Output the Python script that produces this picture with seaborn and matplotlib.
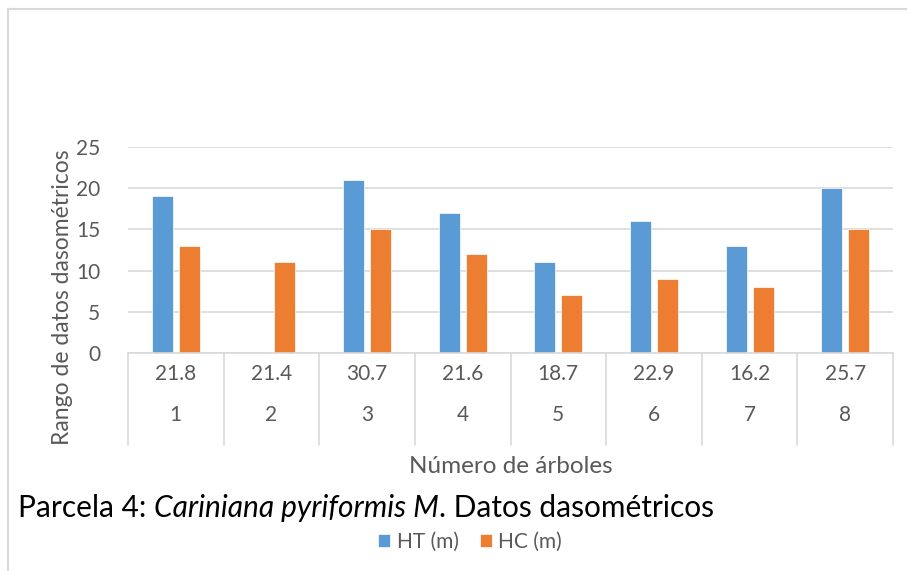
import matplotlib
matplotlib.use("Agg")
import matplotlib.pyplot as plt
import matplotlib.transforms as mtransforms
import seaborn as sns
import pandas as pd

# ---- data ----
arboles = ["1", "2", "3", "4", "5", "6", "7", "8"]
dap = ["21.8", "21.4", "30.7", "21.6", "18.7", "22.9", "16.2", "25.7"]
ht = [19, 0, 21, 17, 11, 16, 13, 20]
hc = [13, 11, 15, 12, 7, 9, 8, 15]
series_names = ["HT (m)", "HC (m)"]
colors = ["#5B9BD5", "#ED7D31"]

df = pd.DataFrame({
    "arbol": arboles * 2,
    "valor": ht + hc,
    "serie": [series_names[0]] * len(arboles) + [series_names[1]] * len(arboles),
})

sns.set_theme(style="white")
plt.rcParams["font.family"] = ["Lato", "DejaVu Sans"]
grey = "#595959"

fig = plt.figure(figsize=(9.07, 5.71), dpi=100)
ax = fig.add_axes([128 / 907, 1 - 353 / 571, (893 - 128) / 907, (353 - 147) / 571])

sns.barplot(data=df, x="arbol", y="valor", hue="serie", order=arboles,
            hue_order=series_names, palette=colors, width=0.565, gap=0.22,
            saturation=1, ax=ax, edgecolor="white", linewidth=0.5)

ax.set_ylim(0, 25)
ax.set_xlim(-0.5, len(arboles) - 0.5)
ax.set_yticks([0, 5, 10, 15, 20, 25])
ax.yaxis.grid(True, color="#D9D9D9", linewidth=1.2)
ax.set_axisbelow(True)
for s in ["top", "right", "left"]:
    ax.spines[s].set_visible(False)
ax.spines["bottom"].set_color("#D9D9D9")
ax.spines["bottom"].set_linewidth(1.2)
ax.tick_params(axis="y", length=0, labelsize=15, labelcolor=grey, pad=20)
ax.set_xticks([])
ax.set_xlabel("")
ax.set_ylabel("")

# multi-level category axis
trans = mtransforms.blended_transform_factory(ax.transData, ax.transAxes)
for i in range(len(arboles) + 1):
    ax.plot([i - 0.5, i - 0.5], [0, -0.447], transform=trans, color="#D9D9D9",
            linewidth=1.2, clip_on=False)
for i, (d, a) in enumerate(zip(dap, arboles)):
    ax.text(i, -0.102, d, transform=trans, ha="center", va="center",
            fontsize=15, color=grey)
    ax.text(i, -0.301, a, transform=trans, ha="center", va="center",
            fontsize=15, color=grey)

ax.text(0.5, -0.553, "Número de árboles", transform=ax.transAxes, ha="center",
        va="center", fontsize=17.5, color=grey)
fig.text(63 / 907, 1 - 297 / 571, "Rango de datos dasométricos", rotation=90,
         ha="center", va="center", fontsize=16.5, color=grey)

# legend
handles, labels = ax.get_legend_handles_labels()
ax.get_legend().remove()
fig.legend(handles, labels, loc="center", bbox_to_anchor=(470 / 907, 1 - 542 / 571),
           ncol=2, frameon=False, fontsize=15, handlelength=0.6, handleheight=0.6,
           handletextpad=0.3, columnspacing=1.0, labelcolor=grey)

# title below with mixed styles
fig.canvas.draw()
renderer = fig.canvas.get_renderer()
parts = [("Parcela 4: ", "normal"), ("Cariniana pyriformis M", "italic"),
         (". Datos dasométricos", "normal")]
x = 18 / 907
ty = 1 - 508 / 571
for txt, style in parts:
    t = fig.text(x, ty, txt, ha="left", va="center", fontsize=21.5,
                 style=style, color="#000000")
    bb = t.get_window_extent(renderer=renderer)
    x = bb.x1 / fig.bbox.width

# frame border (top and left)
fig.add_artist(plt.Line2D([8 / 907, 1], [1 - 9 / 571, 1 - 9 / 571],
                          transform=fig.transFigure, color="#D9D9D9", linewidth=1.5))
fig.add_artist(plt.Line2D([8 / 907, 8 / 907], [0, 1 - 9 / 571],
                          transform=fig.transFigure, color="#D9D9D9", linewidth=1.5))

fig.savefig("out.png", dpi=100)
